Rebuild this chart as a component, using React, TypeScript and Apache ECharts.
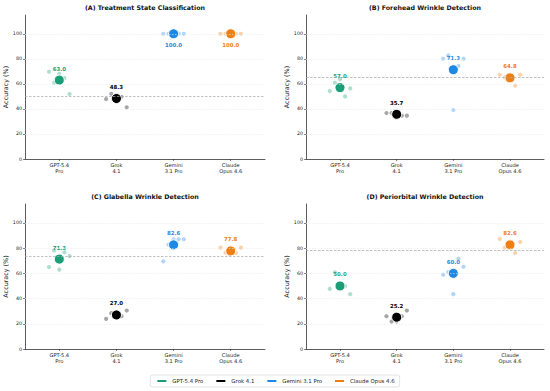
import React, { useEffect, useRef } from "react";
import * as echarts from "echarts";

const models = ["GPT-5.4 Pro", "Grok 4.1", "Gemini 3.1 Pro", "Claude Opus 4.6"];
const xTickLabels = ["GPT-5.4\nPro", "Grok\n4.1", "Gemini\n3.1 Pro", "Claude\nOpus 4.6"];
const colors = ["#1a9e77", "#000000", "#1e88e5", "#f07f13"];
const panelTitles = [
  "(A) Treatment State Classification",
  "(B) Forehead Wrinkle Detection",
  "(C) Glabella Wrinkle Detection",
  "(D) Periorbital Wrinkle Detection",
];
const yTicks = [0, 20, 40, 60, 80, 100];
const gridValues = [20, 40, 60, 80, 100];
const runOffsets = [-0.18, -0.09, 0, 0.09, 0.18];

// individual runs per model (GPT, Grok, Gemini, Claude)
const runsA = [
  [69.7, 60.9, 68.0, 64.6, 51.9],
  [47.9, 52.1, 50.5, 49.7, 41.3],
  [100, 100, 100, 100, 100],
  [100, 100, 100, 100, 100],
];
const runsB = [
  [54.3, 60.9, 63.7, 50.0, 56.4],
  [36.7, 36.7, 35.9, 34.6, 34.6],
  [80.1, 82.7, 39.1, 74.3, 80.1],
  [67.3, 65.2, 65.7, 58.5, 67.3],
];
const runsC = [
  [65.0, 78.2, 62.9, 76.7, 73.7],
  [23.9, 28.4, 26.2, 26.0, 30.5],
  [69.5, 82.7, 87.0, 87.0, 87.0],
  [80.4, 76.4, 75.4, 76.4, 80.4],
];
const runsD = [
  [47.7, 60.8, 48.1, 49.9, 43.5],
  [26.0, 21.8, 21.8, 26.0, 30.5],
  [58.9, 61.0, 43.5, 71.6, 65.2],
  [87.3, 80.4, 84.3, 76.1, 84.9],
];
const meansA = [63.0, 48.3, 100.0, 100.0];
const meansB = [57.0, 35.7, 71.3, 64.8];
const meansC = [71.3, 27.0, 82.6, 77.8];
const meansD = [50.0, 25.2, 60.0, 82.6];
const referenceLines = [50, 65.2, 73.7, 78.3];

const allRuns = [runsA, runsB, runsC, runsD];
const allMeans = [meansA, meansB, meansC, meansD];

const FONT = "DejaVu Sans";

const grids = [
  { left: 25, top: 15, width: 240, height: 144 },
  { left: 306, top: 15, width: 238, height: 144 },
  { left: 25, top: 204, width: 240, height: 145 },
  { left: 306, top: 204, width: 238, height: 145 },
];

export default function App() {
  const ref = useRef<HTMLDivElement>(null);
  useEffect(() => {
    if (!ref.current) return;
    const chart = echarts.init(ref.current, null, { renderer: "svg" });
    const series: any[] = [];
    for (let p = 0; p < 4; p++) {
      series.push({
        type: "scatter",
        name: "ref" + p,
        xAxisIndex: p,
        yAxisIndex: p,
        data: [],
        silent: true,
        markLine: {
          silent: true,
          symbol: ["none", "none"],
          label: { show: false },
          data: [
            ...gridValues.map((v) => ({
              yAxis: v,
              lineStyle: { type: [1.5, 1.5], color: "#e6e6e6", width: 0.6 },
            })),
            {
              yAxis: referenceLines[p],
              lineStyle: { type: [2.5, 1.5], color: "#a8a8a8", width: 0.7 },
            },
          ],
        },
      });
      for (let m = 0; m < 4; m++) {
        const mean = allMeans[p][m];
        series.push({
          type: "scatter",
          name: models[m],
          xAxisIndex: p,
          yAxisIndex: p,
          data: [[m, mean]],
          symbolSize: 10,
          z: 4,
          itemStyle: { color: colors[m], borderColor: "#ffffff", borderWidth: 1, opacity: 1 },
          label: {
            show: true,
            position: mean >= 99 ? "bottom" : "top",
            distance: 3.5,
            formatter: () => mean.toFixed(1),
            color: colors[m],
            fontWeight: "bold",
            fontSize: 5.4,
            fontFamily: FONT,
          },
        });
        series.push({
          type: "scatter",
          name: models[m],
          xAxisIndex: p,
          yAxisIndex: p,
          data: allRuns[p][m].map((v, i) => [m + runOffsets[i], v]),
          symbolSize: 4.2,
          z: 3,
          itemStyle: { color: colors[m], opacity: 0.35 },
        });
      }
    }
    const option: any = {
      animation: false,
      backgroundColor: "#ffffff",
      grid: grids,
      xAxis: grids.map((_, i) => ({
        type: "value",
        gridIndex: i,
        min: -0.6,
        max: 3.6,
        splitLine: { show: false },
        axisLine: { show: true, onZero: false, lineStyle: { color: "#333", width: 0.8 } },
        axisTick: { show: true, customValues: [0, 1, 2, 3], length: 2, lineStyle: { color: "#333", width: 0.6 } },
        axisLabel: {
          customValues: [0, 1, 2, 3],
          formatter: (v: number) => xTickLabels[Math.round(v)] ?? "",
          fontSize: 5.1,
          lineHeight: 6,
          margin: 3,
          color: "#222",
          fontFamily: FONT,
        },
      })),
      yAxis: grids.map((_, i) => ({
        type: "value",
        gridIndex: i,
        min: 0,
        max: 115,
        interval: 20,
        splitLine: { show: false },
        name: "Accuracy (%)",
        nameLocation: "middle",
        nameGap: 14,
        nameTextStyle: { fontSize: 6.4, color: "#222", fontFamily: FONT },
        axisLine: { show: true, onZero: false, lineStyle: { color: "#333", width: 0.8 } },
        axisTick: { show: true, customValues: yTicks, length: 2, lineStyle: { color: "#333", width: 0.6 } },
        axisLabel: {
          customValues: yTicks,
          fontSize: 4.8,
          margin: 3,
          color: "#222",
          fontFamily: FONT,
        },
      })),
      legend: {
        data: models.map((name) => ({ name, icon: "rect" })),
        left: "center",
        top: 375,
        itemWidth: 11,
        itemHeight: 4,
        itemGap: 11,
        padding: [3, 5],
        borderColor: "#dddddd",
        borderWidth: 0.8,
        borderRadius: 2,
        textStyle: { fontSize: 5.4, color: "#222", fontFamily: FONT },
      },
      graphic: panelTitles.map((t, i) => ({
        type: "text",
        x: grids[i].left + grids[i].width / 2,
        y: grids[i].top - 8,
        style: {
          text: t,
          textAlign: "center",
          textVerticalAlign: "middle",
          fontSize: 6.3,
          fontWeight: "bold",
          fontFamily: FONT,
          fill: "#111",
        },
      })),
      series,
    };
    chart.setOption(option);
    return () => chart.dispose();
  }, []);
  return <div ref={ref} style={{ width: 550, height: 391, position: "absolute", left: 0, top: 0 }} />;
}
